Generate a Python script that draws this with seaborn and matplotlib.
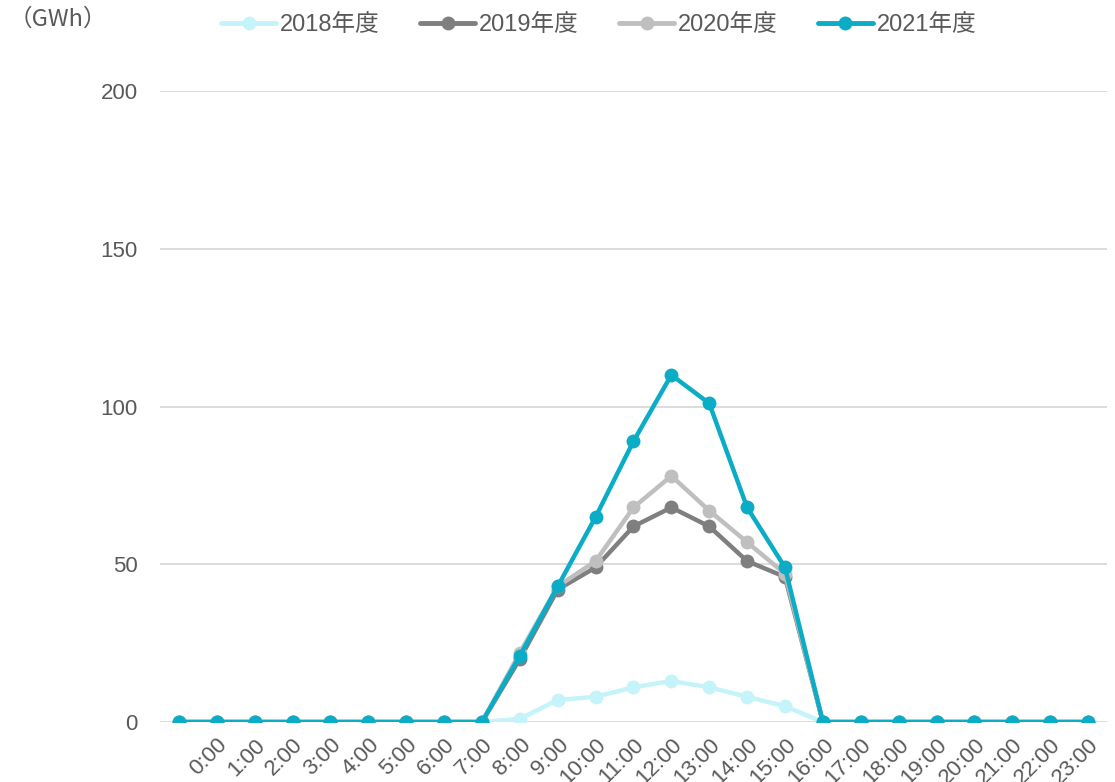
import numpy as np
import pandas as pd
import seaborn as sns
import matplotlib
matplotlib.use("Agg")
import matplotlib.pyplot as plt

# dados (25 pontos, o primeiro sem rótulo)
pos = list(range(25))
horas = [f"{h}:00" for h in range(24)]
anos = ["2018年度", "2019年度", "2020年度", "2021年度"]

v2018 = [0, 0, 0, 0, 0, 0, 0, 0, 0, 1, 7, 8, 11, 13, 11, 8, 5, 0, 0, 0, 0, 0, 0, 0, 0]
v2019 = [0, 0, 0, 0, 0, 0, 0, 0, 0, 20, 42, 49, 62, 68, 62, 51, 46, 0, 0, 0, 0, 0, 0, 0, 0]
v2020 = [0, 0, 0, 0, 0, 0, 0, 0, 0, 22, 43, 51, 68, 78, 67, 57, 47, 0, 0, 0, 0, 0, 0, 0, 0]
v2021 = [0, 0, 0, 0, 0, 0, 0, 0, 0, 21, 43, 65, 89, 110, 101, 68, 49, 0, 0, 0, 0, 0, 0, 0, 0]

cores = ["#C4F4F9", "#7F7F7F", "#BFBFBF", "#0AACC6"]

df = pd.DataFrame({
    "pos": pos * 4,
    "valor": v2018 + v2019 + v2020 + v2021,
    "ano": [a for a in anos for _ in pos],
})

sns.set_style("white")
plt.rcParams["font.family"] = ["Liberation Sans", "Noto Sans CJK JP", "DejaVu Sans"]

fig = plt.figure(figsize=(11.15, 7.82), dpi=100)
ax = fig.add_axes([0.1435, 0.0767, 0.8493, 0.8069])

plot = sns.lineplot(data=df, x="pos", y="valor", hue="ano", palette=cores,
                    marker="o", markersize=10, markeredgewidth=0, linewidth=3.2,
                    ax=ax, legend=False)

ax.set_xlim(-0.5, 24.5)
ax.set_ylim(0, 200)
ax.set_yticks([0, 50, 100, 150, 200])
ax.yaxis.grid(True, color="#D9D9D9", linewidth=1.3)
ax.set_axisbelow(True)
for s in ax.spines.values():
    s.set_visible(False)

ax.set_xticks(range(1, 25))
ax.set_xticklabels(horas, rotation=45, ha="right", va="top", rotation_mode="anchor")
ax.tick_params(axis="both", length=0, labelsize=16, colors="#595959")
ax.tick_params(axis="y", pad=16)
ax.tick_params(axis="x", pad=9)
ax.set_xlabel("")
ax.set_ylabel("")

handles = [plt.Line2D([], [], color=c, linewidth=3.5, marker="o", markersize=10,
                      markeredgewidth=0) for c in cores]
fig.legend(handles, anos, loc="center", bbox_to_anchor=(0.537, 0.968), ncol=4,
           frameon=False, fontsize=17, labelcolor="#595959", handlelength=2.35,
           handletextpad=0.15, columnspacing=1.7)

fig.text(0.008, 0.975, "（GWh）", fontsize=17, color="#595959", va="center", ha="left",
         family=["Noto Sans CJK JP", "DejaVu Sans"])

fig.savefig("out.png", dpi=100)
